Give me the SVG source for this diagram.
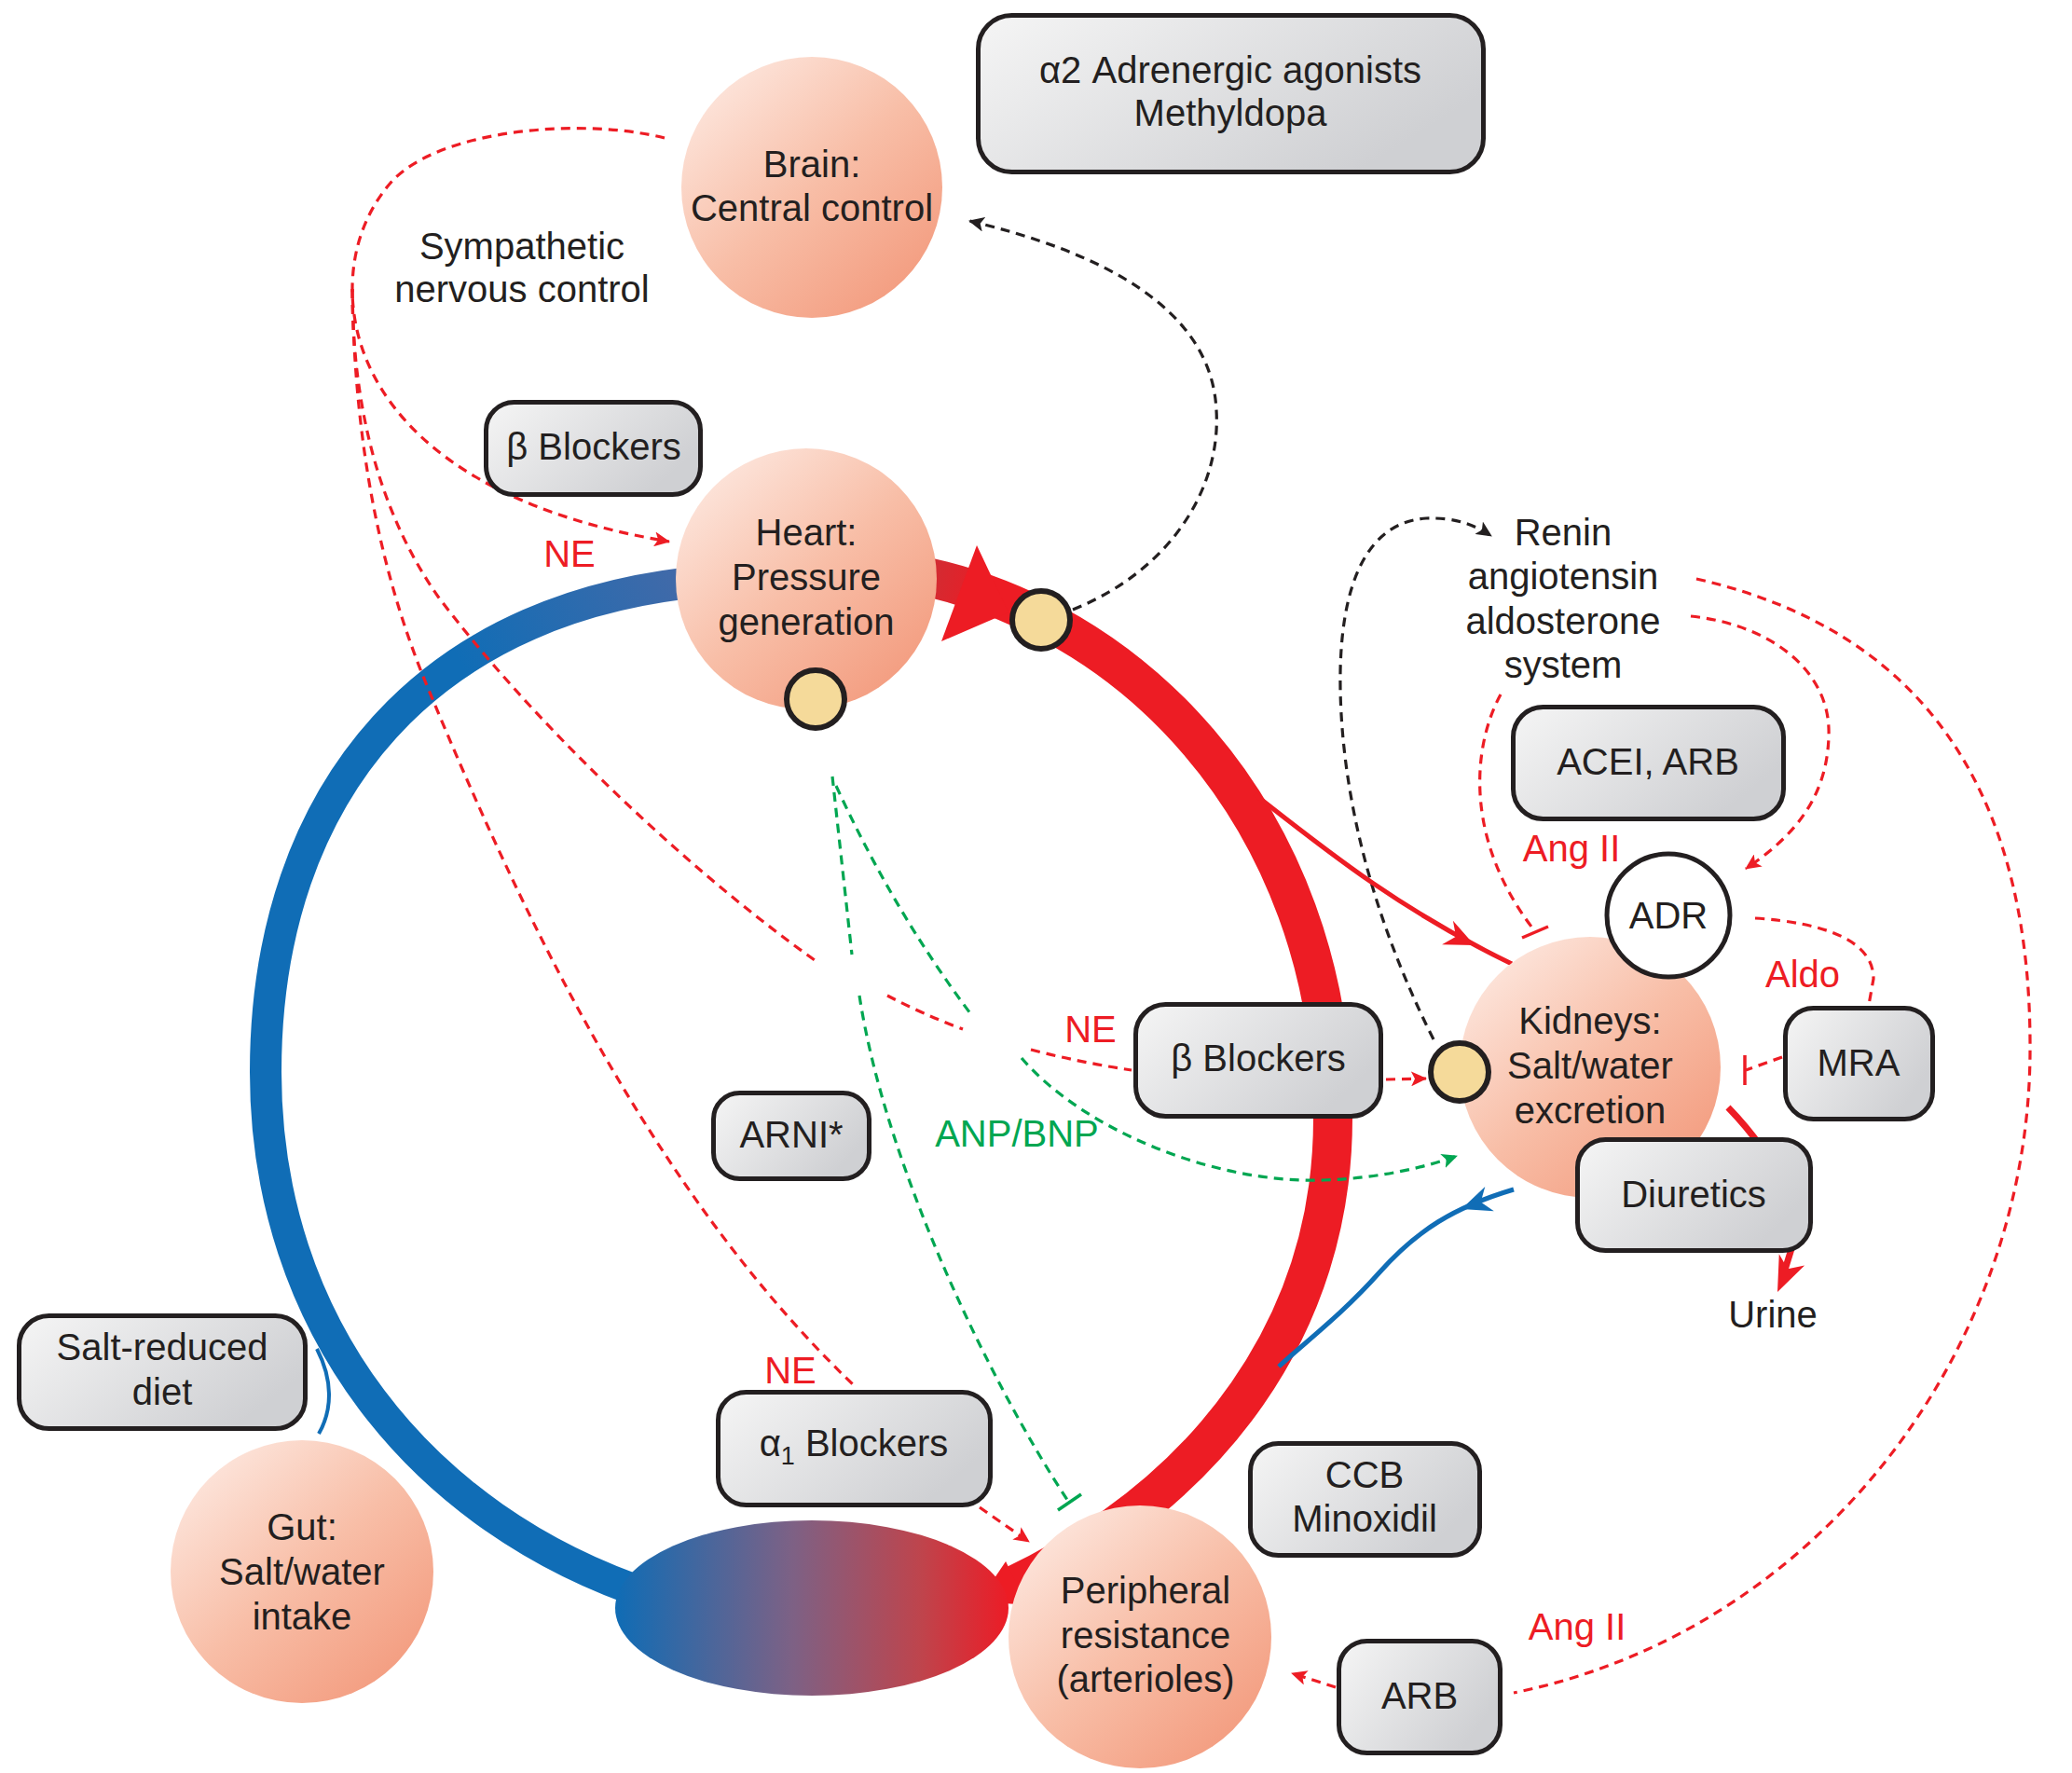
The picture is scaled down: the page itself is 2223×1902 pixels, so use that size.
<svg xmlns="http://www.w3.org/2000/svg" width="2223" height="1902" viewBox="0 0 2223 1902">
<style>
text{font-family:"Liberation Sans",Arial,Helvetica,sans-serif;font-size:40px;fill:#231f20;text-anchor:middle}
.red{fill:#ed1c24}
.grn{fill:#00a651}
.node{fill:url(#skin)}
.box{fill:url(#boxg);stroke:#231f20;stroke-width:5}
.dot{fill:#f5da9a;stroke:#231f20;stroke-width:6}
.dr{fill:none;stroke:#ed1c24;stroke-width:3.2;stroke-dasharray:10 7}
.dk{fill:none;stroke:#231f20;stroke-width:3.2;stroke-dasharray:10 7}
.dg{fill:none;stroke:#00a651;stroke-width:3.2;stroke-dasharray:10 7}
.tr{stroke:#ed1c24;stroke-width:3.5}
.tg{stroke:#00a651;stroke-width:3.5}
</style>
<defs>
<linearGradient id="skin" x1="0.12" y1="0.08" x2="0.88" y2="0.92">
<stop offset="0" stop-color="#fde6dd"/>
<stop offset="0.5" stop-color="#f8bea7"/>
<stop offset="1" stop-color="#f39b7e"/>
</linearGradient>
<linearGradient id="boxg" x1="0" y1="0" x2="1" y2="0.5">
<stop offset="0" stop-color="#f5f5f5"/>
<stop offset="1" stop-color="#cfd0d3"/>
</linearGradient>
<linearGradient id="cap" x1="0" y1="0" x2="1" y2="0">
<stop offset="0" stop-color="#0f6cb5"/>
<stop offset="0.45" stop-color="#7d6185"/>
<stop offset="0.78" stop-color="#bf444c"/>
<stop offset="1" stop-color="#ec1c26"/>
</linearGradient>
<linearGradient id="blueg" gradientUnits="userSpaceOnUse" x1="780" y1="620" x2="520" y2="760">
<stop offset="0" stop-color="#4a69a6"/>
<stop offset="1" stop-color="#106db6"/>
</linearGradient>
<linearGradient id="redg" gradientUnits="userSpaceOnUse" x1="990" y1="620" x2="1060" y2="640">
<stop offset="0" stop-color="#cf2d34"/>
<stop offset="1" stop-color="#ed1c24"/>
</linearGradient>
<marker id="aR" markerUnits="userSpaceOnUse" markerWidth="18" markerHeight="16" refX="16" refY="8" orient="auto">
<path d="M0,0 L17,8 L0,16 L4,8 z" fill="#ed1c24"/>
</marker>
<marker id="aK" markerUnits="userSpaceOnUse" markerWidth="18" markerHeight="16" refX="16" refY="8" orient="auto">
<path d="M0,0 L17,8 L0,16 L4,8 z" fill="#231f20"/>
</marker>
<marker id="aG" markerUnits="userSpaceOnUse" markerWidth="18" markerHeight="16" refX="16" refY="8" orient="auto">
<path d="M0,0 L17,8 L0,16 L4,8 z" fill="#00a651"/>
</marker>
</defs>

<g id="circulation">
<path d="M780,622 C460,640 285,850 285,1150 C285,1420 450,1630 700,1712" fill="none" stroke="url(#blueg)" stroke-width="34"/>
<path d="M940,610 C1210,640 1430,880 1430,1200 C1430,1420 1300,1600 1085,1702" fill="none" stroke="url(#redg)" stroke-width="42"/>
<polygon points="1048,585 1082,657 1010,688" fill="#ed1c24"/>
<polygon points="0,0 -45,-26 -45,26" transform="translate(1050,1718) rotate(154)" fill="#ed1c24"/>
<ellipse cx="871" cy="1725" rx="211" ry="94" fill="url(#cap)"/>
</g>

<g id="connectors">
<path class="dr" d="M713,148 C620,125 470,140 420,195 C385,235 378,280 378,310 C378,420 470,540 718,581" marker-end="url(#aR)"/>
<path class="dr" d="M378,310 C378,420 400,540 470,640 C560,760 720,920 874,1030"/>
<path class="dr" d="M378,310 C380,450 400,600 462,745 C560,980 700,1280 918,1488"/>
<path class="dr" d="M952,1068 Q990,1088 1033,1104"/>
<path class="dr" d="M1106,1126 Q1160,1140 1214,1148"/>
<path class="dr" d="M1487,1158 L1530,1157" marker-end="url(#aR)"/>
<path class="dr" d="M1051,1617 L1104,1654" marker-end="url(#aR)"/>
<path class="dr" d="M1820,621 C2080,680 2180,870 2178,1130 C2176,1450 1950,1750 1624,1816"/>
<path class="dr" d="M1433,1810 L1386,1795" marker-end="url(#aR)"/>
<path class="dr" d="M1814,661 C1900,670 1965,720 1962,790 C1960,860 1920,900 1873,932" marker-end="url(#aR)"/>
<path class="dr" d="M1610,745 C1580,800 1570,900 1646,998"/>
<line class="tr" x1="1633" y1="1006" x2="1661" y2="994"/>
<path class="dr" d="M1883,985 C1960,990 2010,1010 2010,1050 L2005,1078"/>
<path class="dr" d="M1912,1134 L1873,1148"/>
<line class="tr" x1="1872" y1="1132" x2="1872" y2="1164"/>
<path class="dk" d="M1151,654 C1260,610 1310,520 1305,440 C1300,330 1180,270 1040,237" marker-end="url(#aK)"/>
<path class="dk" d="M1538,1115 C1470,980 1440,850 1438,740 C1436,620 1470,560 1530,556 C1560,555 1580,562 1600,575" marker-end="url(#aK)"/>
<path class="dg" d="M893,833 L914,1024"/>
<path class="dg" d="M922,1068 C950,1250 1060,1480 1147,1612"/>
<line class="tg" x1="1135" y1="1620" x2="1160" y2="1603"/>
<path class="dg" d="M897,843 Q960,980 1044,1091"/>
<path class="dg" d="M1096,1135 C1160,1210 1300,1270 1420,1266 C1480,1264 1530,1252 1563,1240" marker-end="url(#aG)"/>
<path d="M1346,852 C1420,910 1500,975 1622,1034" fill="none" stroke="#ed1c24" stroke-width="5"/>
<polygon points="0,0 -32,-14 -22,0 -32,14" transform="translate(1582,1014) rotate(25)" fill="#ed1c24"/>
<path d="M1854,1188 C1885,1220 1925,1270 1925,1330 L1912,1372" fill="none" stroke="#ed1c24" stroke-width="7"/>
<polygon points="0,0 -38,-15 -27,0 -38,15" transform="translate(1907,1386) rotate(114)" fill="#ed1c24"/>
<path d="M1624,1276 C1560,1295 1520,1320 1480,1365 C1440,1410 1400,1440 1372,1466" fill="none" stroke="#106db6" stroke-width="5"/>
<polygon points="0,0 -32,-14 -22,0 -32,14" transform="translate(1568,1297) rotate(160)" fill="#106db6"/>
<path d="M340,1447 C357,1480 357,1512 342,1538" fill="none" stroke="#106db6" stroke-width="4"/>
</g>

<g id="brain"><circle class="node" cx="871" cy="201" r="140"/><text x="871" y="190">Brain:</text><text x="871" y="237">Central control</text></g>
<g id="heart"><circle class="node" cx="865" cy="621" r="140"/><text x="865" y="585">Heart:</text><text x="865" y="633">Pressure</text><text x="865" y="681">generation</text></g>
<g id="heart-dot"><circle class="dot" cx="875" cy="750" r="31"/></g>
<g id="artery-dot"><circle class="dot" cx="1117" cy="665" r="31"/></g>
<g id="kidneys"><circle class="node" cx="1706" cy="1145" r="140"/><text x="1706" y="1109">Kidneys:</text><text x="1706" y="1157">Salt/water</text><text x="1706" y="1205">excretion</text></g>
<g id="kidney-dot"><circle class="dot" cx="1566" cy="1150" r="31"/></g>
<g id="peripheral"><circle class="node" cx="1223" cy="1756" r="141"/><text x="1229" y="1720">Peripheral</text><text x="1229" y="1768">resistance</text><text x="1229" y="1815">(arterioles)</text></g>
<g id="gut"><circle class="node" cx="324" cy="1686" r="141"/><text x="324" y="1652">Gut:</text><text x="324" y="1700">Salt/water</text><text x="324" y="1748">intake</text></g>
<g id="adr"><circle cx="1790" cy="982" r="66" fill="#fff" stroke="#231f20" stroke-width="5"/><text x="1790" y="996">ADR</text></g>

<g id="alpha2"><rect class="box" x="1049.5" y="16.5" width="542" height="168" rx="36"/><text x="1320" y="89">α2 Adrenergic agonists</text><text x="1320" y="135">Methyldopa</text></g>
<g id="beta-upper"><rect class="box" x="521.5" y="431.5" width="230" height="99" rx="30"/><text x="637" y="493">β Blockers</text></g>
<g id="beta-mid"><rect class="box" x="1218.5" y="1077.5" width="263" height="120" rx="32"/><text x="1350" y="1149">β Blockers</text></g>
<g id="arni"><rect class="box" x="765.5" y="1172.5" width="167" height="92" rx="28"/><text x="849" y="1231">ARNI*</text></g>
<g id="alpha1"><rect class="box" x="770.5" y="1493.5" width="292" height="121" rx="30"/><text x="916" y="1562">α<tspan dy="9" font-size="27px">1</tspan><tspan dy="-9"> Blockers</tspan></text></g>
<g id="ccb"><rect class="box" x="1341.5" y="1548.5" width="246" height="120" rx="30"/><text x="1464" y="1596">CCB</text><text x="1464" y="1643">Minoxidil</text></g>
<g id="arb"><rect class="box" x="1436.5" y="1760.5" width="173" height="120" rx="30"/><text x="1523" y="1833">ARB</text></g>
<g id="acei"><rect class="box" x="1623.5" y="758.5" width="290" height="120" rx="32"/><text x="1768" y="831">ACEI, ARB</text></g>
<g id="mra"><rect class="box" x="1915.5" y="1081.5" width="158" height="119" rx="30"/><text x="1994" y="1154">MRA</text></g>
<g id="diuretics"><rect class="box" x="1692.5" y="1222.5" width="250" height="119" rx="30"/><text x="1817" y="1295">Diuretics</text></g>
<g id="salt-diet"><rect class="box" x="20.5" y="1411.5" width="307" height="121" rx="32"/><text x="174" y="1459">Salt-reduced</text><text x="174" y="1507">diet</text></g>

<g id="labels">
<text x="560" y="278">Sympathetic</text><text x="560" y="324">nervous control</text>
<text x="1677" y="585">Renin</text><text x="1677" y="632">angiotensin</text><text x="1677" y="680">aldosterone</text><text x="1677" y="727">system</text>
<text x="1902" y="1424">Urine</text>
<text class="red" x="611" y="608">NE</text>
<text class="red" x="1170" y="1118">NE</text>
<text class="red" x="848" y="1484">NE</text>
<text class="red" x="1686" y="924">Ang II</text>
<text class="red" x="1934" y="1059">Aldo</text>
<text class="red" x="1692" y="1759">Ang II</text>
<text class="grn" x="1091" y="1230">ANP/BNP</text>
</g>
</svg>
